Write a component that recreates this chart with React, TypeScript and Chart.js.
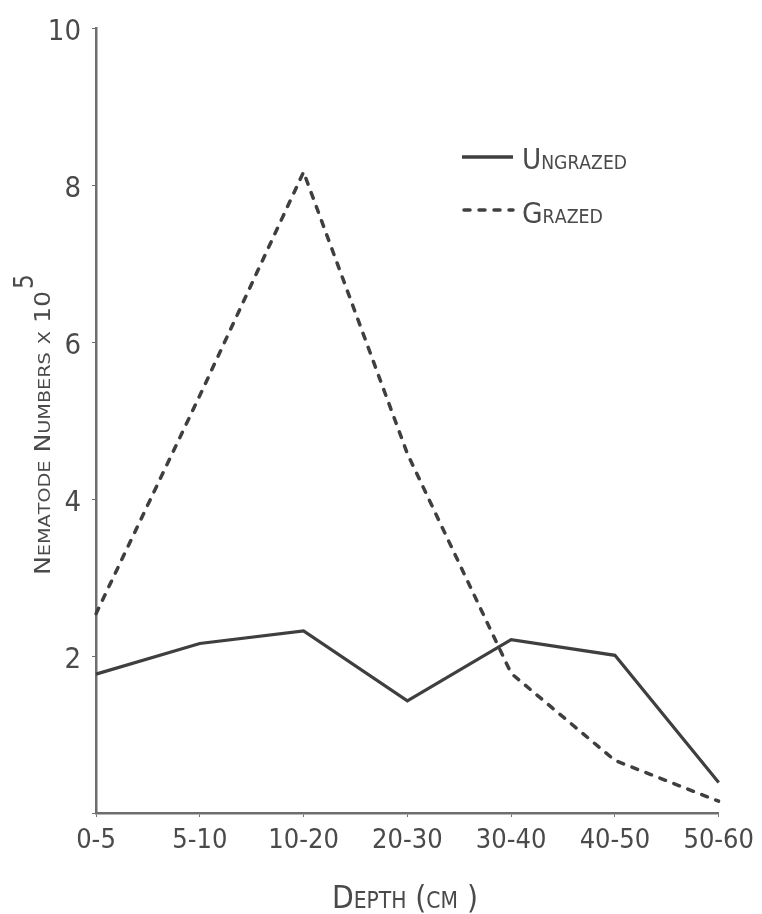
import React, { useEffect, useRef } from "react";
import { Chart, registerables } from "chart.js";
Chart.register(...registerables);

const depthLabels = ["0-5", "5-10", "10-20", "20-30", "30-40", "40-50", "50-60"];
const ungrazed = [1.77, 2.16, 2.32, 1.43, 2.21, 2.01, 0.39];
const grazed = [2.54, 5.32, 8.17, 4.58, 1.78, 0.67, 0.15];
const yTicks = [0, 2, 4, 6, 8, 10];
const seriesNames = ["Ungrazed", "Grazed"];
const xTitle = "Depth (cm )";
const yTitle = "Nematode Numbers x 10";
const yTitleExp = "5";

const FONT = "'DejaVu Sans Condensed', 'DejaVu Sans', sans-serif";
const INK = "#3f3f3f";
const TEXT = "#4a4a4a";
const AXIS = "#6e6e6e";

function drawCaps(ctx: CanvasRenderingContext2D, text: string, x: number, y: number, big: number, small: number, targetWidth?: number) {
  const runs: { t: string; s: number; w: number }[] = [];
  for (const ch of text) {
    const isLower = ch !== ch.toUpperCase();
    runs.push({ t: ch.toUpperCase(), s: isLower ? small : big, w: 0 });
  }
  let total = 0;
  for (const r of runs) {
    ctx.font = `${r.s}px ${FONT}`;
    r.w = ctx.measureText(r.t).width;
    total += r.w;
  }
  const k = targetWidth ? targetWidth / total : 1;
  ctx.save();
  ctx.translate(x, y);
  ctx.scale(k, 1);
  let cx = 0;
  for (const r of runs) {
    ctx.font = `${r.s}px ${FONT}`;
    ctx.fillText(r.t, cx, 0);
    cx += r.w;
  }
  ctx.restore();
  return total * k;
}

const annotations = {
  id: "annotations",
  afterDraw(chart: any) {
    const ctx: CanvasRenderingContext2D = chart.ctx;
    ctx.save();
    ctx.fillStyle = TEXT;
    ctx.textBaseline = "alphabetic";
    ctx.textAlign = "left";

    // x title
    drawCaps(ctx, xTitle, 332, 908, 32, 23, 146);

    // y title (rotated)
    ctx.save();
    ctx.translate(50, 575);
    ctx.rotate(-Math.PI / 2);
    const w = drawCaps(ctx, yTitle, 0, 0, 21, 16, 284);
    ctx.font = `26px ${FONT}`;
    ctx.fillText(yTitleExp, w + 2, -17);
    ctx.restore();

    // legend
    const items = [
      { name: seriesNames[0], y: 157, dash: [] as number[], base: 169, width: 105 },
      { name: seriesNames[1], y: 210, dash: [6, 9], base: 223, width: 81 },
    ];
    for (const it of items) {
      ctx.save();
      ctx.strokeStyle = INK;
      ctx.lineWidth = 3.5;
      ctx.lineCap = it.dash.length ? "round" : "butt";
      ctx.setLineDash(it.dash);
      ctx.beginPath();
      ctx.moveTo(it.dash.length ? 464 : 462, it.y);
      ctx.lineTo(513, it.y);
      ctx.stroke();
      ctx.restore();
      drawCaps(ctx, it.name, 522, it.base, 29, 19, it.width);
    }
    ctx.restore();
  },
};

export default function App() {
  const ref = useRef<HTMLCanvasElement>(null);
  useEffect(() => {
    const chart = new Chart(ref.current!, {
      type: "line",
      data: {
        labels: depthLabels,
        datasets: [
          {
            label: seriesNames[0],
            data: ungrazed,
            borderColor: INK,
            borderWidth: 3.2,
            pointRadius: 0,
            tension: 0,
            fill: false,
            borderJoinStyle: "miter",
          },
          {
            label: seriesNames[1],
            data: grazed,
            borderColor: INK,
            borderWidth: 3.5,
            borderDash: [6, 9],
            borderCapStyle: "round",
            pointRadius: 0,
            tension: 0,
            fill: false,
          },
        ],
      },
      options: {
        responsive: false,
        animation: false,
        devicePixelRatio: 1,
        layout: { padding: { top: 21, right: 42, left: 0, bottom: 0 } },
        plugins: { legend: { display: false }, tooltip: { enabled: false }, title: { display: false } },
        scales: {
          x: {
            type: "category",
            offset: false,
            grid: { display: true, drawOnChartArea: false, drawTicks: true, tickLength: 4, color: AXIS },
            border: { display: true, color: AXIS, width: 2.5 },
            ticks: { font: { family: FONT, size: 27 }, color: TEXT, padding: 8, maxRotation: 0, autoSkip: false },
            afterFit: (s: any) => {
              s.height = 101;
            },
          },
          y: {
            min: 0,
            max: 10,
            afterBuildTicks: (s: any) => {
              s.ticks = yTicks.map((v) => ({ value: v }));
            },
            grid: { display: true, drawOnChartArea: false, drawTicks: true, tickLength: 4, color: AXIS },
            border: { display: true, color: AXIS, width: 2.5 },
            ticks: {
              callback: (v: any) => (v === 0 ? "" : String(v)),
              font: { family: FONT, size: 29 },
              color: TEXT,
              padding: 11,
              labelOffset: 4,
            },
            afterFit: (s: any) => {
              s.width = 96;
            },
          },
        },
      },
      plugins: [annotations],
    } as any);
    return () => chart.destroy();
  }, []);
  return (
    <div style={{ position: "fixed", left: 0, top: 0, width: 762, height: 914, background: "#fff" }}>
      <canvas ref={ref} width={762} height={914} style={{ display: "block" }} />
    </div>
  );
}
